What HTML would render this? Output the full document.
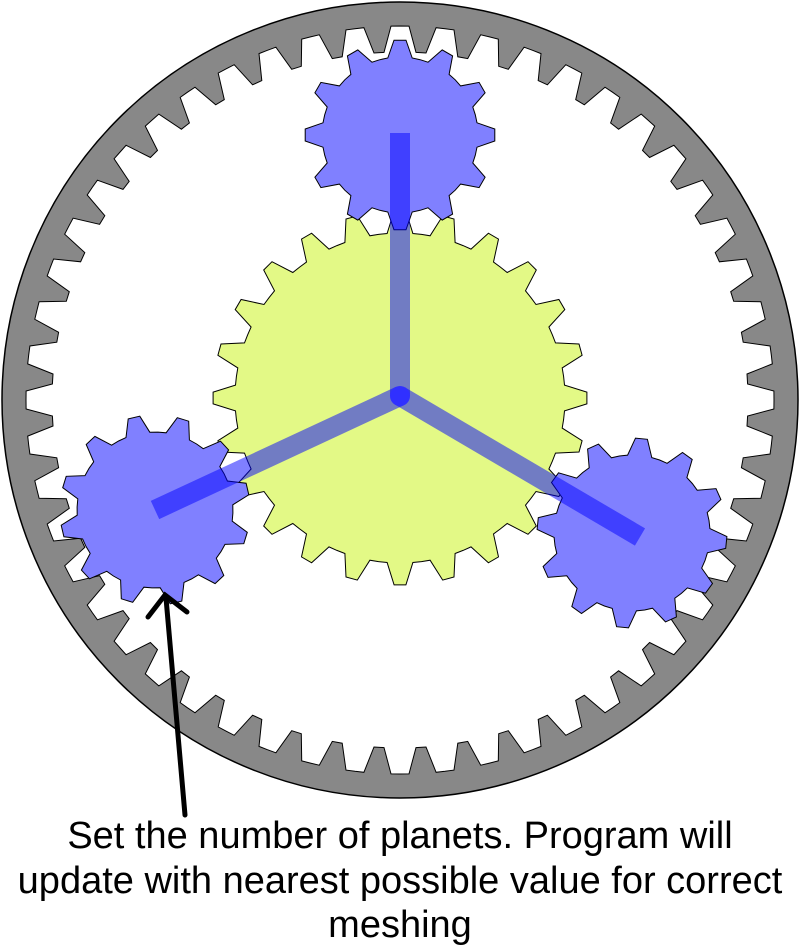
<!DOCTYPE html>
<html><head><meta charset="utf-8"><style>
html,body{margin:0;padding:0;background:#fff;width:800px;height:947px;overflow:hidden}
svg{position:absolute;left:0;top:0}
.t{font-family:"Liberation Sans",sans-serif;font-size:38px;fill:#000;text-anchor:middle}
</style></head><body>
<svg id="s" width="800" height="947" viewBox="0 0 800 947">
<circle cx="400" cy="400" r="398" fill="#888" stroke="#000" stroke-width="1.5"/>
<g id="g"></g>
<line x1="400" y1="396" x2="400" y2="133" stroke="rgba(0,0,255,0.5)" stroke-width="20"/>
<line x1="400" y1="396" x2="155" y2="510" stroke="rgba(0,0,255,0.5)" stroke-width="20"/>
<line x1="400" y1="396" x2="640" y2="537" stroke="rgba(0,0,255,0.5)" stroke-width="20"/>
<circle cx="400" cy="396" r="10" fill="#3030ff"/>
<line x1="185" y1="815" x2="166" y2="598" stroke="#000" stroke-width="5" stroke-linecap="round"/>
<polyline points="148,617 165,595 187,612" fill="none" stroke="#000" stroke-width="5" stroke-linecap="round" stroke-linejoin="miter"/>
<text class="t" x="400" y="848">Set the number of planets. Program will</text>
<text class="t" x="400" y="893">update with nearest possible value for correct</text>
<text class="t" x="400" y="937">meshing</text>
</svg>
<script>
function gear(cx,cy,n,rr,rt,ph){
 var p=2*Math.PI/n,pts=[];
 for(var i=0;i<n;i++){
  var th=ph+i*p;
  var a=[[rr,th-0.5*p],[rr,th-0.3*p],[rt,th-0.12*p],[rt,th+0.12*p],[rr,th+0.3*p]];
  a.forEach(function(q){pts.push((cx+q[0]*Math.cos(q[1])).toFixed(1)+","+(cy+q[0]*Math.sin(q[1])).toFixed(1));});
 }
 return pts.join(" ");
}
var g=document.getElementById("g"),h="";
var up=-Math.PI/2;
h+='<polygon points="'+gear(400,400,52,374,348,up+Math.PI/52)+'" fill="#fff" stroke="#000" stroke-width="1"/>';
h+='<polygon points="'+gear(400,398,24,165,187,up)+'" fill="#e3f986" stroke="#000" stroke-width="1"/>';
h+='<polygon points="'+gear(400,135,12,78,95,up)+'" fill="#8080ff" stroke="#000" stroke-width="1"/>';
h+='<polygon points="'+gear(155,510,12,78,95,up+0.3)+'" fill="#8080ff" stroke="#000" stroke-width="1"/>';
h+='<polygon points="'+gear(632,533,12,78,95,up+0.1)+'" fill="#8080ff" stroke="#000" stroke-width="1"/>';
g.innerHTML=h;
</script>
</body></html>
